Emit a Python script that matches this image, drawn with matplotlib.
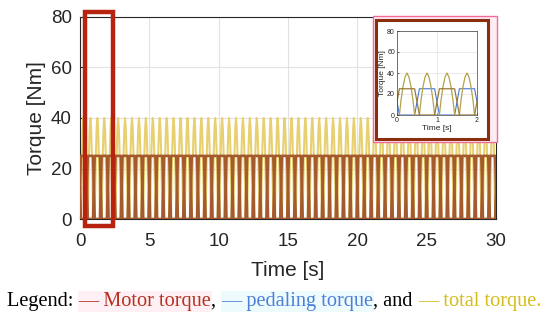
import numpy as np
import matplotlib
matplotlib.use("Agg")
import matplotlib.pyplot as plt
from matplotlib.patches import Rectangle

# ---------------- data ----------------
# one pedal stroke (0.5 s): total torque arch
stroke_t = [0.00, 0.06, 0.10, 0.15, 0.20, 0.25, 0.30, 0.35, 0.40, 0.44, 0.50]
total_stroke = [0, 0, 14, 27, 36, 40, 36, 27, 14, 0, 0]
# one crank revolution (1 s): motor and pedaling torque alternate between 25 and 0
rev_t = [0.00, 0.06, 0.44, 0.56, 0.94, 1.00]
motor_rev = [12.5, 25, 25, 0, 0, 12.5]
pedal_rev = [12.5, 0, 0, 25, 25, 12.5]
n_strokes = 60
n_revs = 30

x_ticks = [0, 5, 10, 15, 20, 25, 30]
y_ticks = [0, 20, 40, 60, 80]
inset_x_ticks = [0, 1, 2]

# ---------------- build series from the cycles ----------------
def tile(tc, vc, n, period):
    tc = np.asarray(tc, float)
    vc = np.asarray(vc, float)
    ts = np.concatenate([tc[:-1] + k * period for k in range(n)] + [[n * period]])
    vs = np.concatenate([vc[:-1] for _ in range(n)] + [[vc[-1]]])
    return ts, vs

t_tot, v_tot = tile(stroke_t, total_stroke, n_strokes, 0.5)
t_mot, v_mot = tile(rev_t, motor_rev, n_revs, 1.0)
t_ped, v_ped = tile(rev_t, pedal_rev, n_revs, 1.0)

c_pedal = "#4a78d0"
c_total = "#e8d070"
c_total_in = "#b3a24a"
c_motor_in = "#9a7a38"
c_main_dark = "#a45a2c"

plt.rcParams["font.family"] = ["Liberation Sans", "DejaVu Sans"]

fig = plt.figure(figsize=(5.5, 3.23), dpi=100)
fig.patch.set_facecolor("white")

W, H = 550.0, 323.0
def fx(px):
    return px / W
def fy(py):
    return 1 - py / H

# ---------------- main axes ----------------
ax = fig.add_axes([fx(80), fy(219), fx(496) - fx(80), fy(17) - fy(219)])
ax.plot(t_tot, v_tot, color=c_total, lw=1.5, zorder=3)
ax.plot(t_mot, v_mot, color=c_main_dark, lw=1.9, zorder=4)
ax.plot(t_ped, v_ped, color=c_main_dark, lw=1.9, zorder=4)
ax.set_xlim(0, 30)
ax.set_ylim(0, 80)
ax.set_xticks(x_ticks)
ax.set_yticks(y_ticks)
ax.grid(True, color="#e2e2e2", lw=0.8)
ax.set_axisbelow(True)
for s in ax.spines.values():
    s.set_color("#262626")
    s.set_linewidth(0.8)
ax.tick_params(labelsize=13.5, colors="#262626", length=3, direction="in")
ax.tick_params(axis="x", pad=10)
ax.tick_params(axis="y", pad=6)
ax.set_xlabel("Time [s]", fontsize=15, color="#262626", labelpad=8)
ax.set_ylabel("Torque [Nm]", fontsize=15, color="#262626", labelpad=3)

# ---------------- highlight rectangle on main plot ----------------
fig.patches.append(Rectangle((fx(85), fy(226)), fx(113) - fx(85), fy(12) - fy(226),
                             transform=fig.transFigure, fill=False,
                             edgecolor="#b8230f", lw=3.2, zorder=10))

# ---------------- inset frame ----------------
fig.patches.append(Rectangle((fx(373), fy(142)), fx(497) - fx(373), fy(16) - fy(142),
                             transform=fig.transFigure, facecolor="#fdecf3",
                             edgecolor="#f06a9a", lw=1.0, zorder=5))
fig.patches.append(Rectangle((fx(376), fy(139)), fx(488) - fx(376), fy(20) - fy(139),
                             transform=fig.transFigure, facecolor="white",
                             edgecolor="#8b2e0e", lw=2.2, zorder=6))

axi = fig.add_axes([fx(397), fy(115), fx(477) - fx(397), fy(31) - fy(115)], zorder=7)
axi.plot(t_ped, v_ped, color=c_pedal, lw=0.8)
axi.plot(t_tot, v_tot, color=c_total_in, lw=0.9)
axi.plot(t_mot, v_mot, color=c_motor_in, lw=0.9)
axi.set_xlim(0, 2)
axi.set_ylim(0, 80)
axi.set_xticks(inset_x_ticks)
axi.set_yticks(y_ticks)
axi.grid(True, color="#e2e2e2", lw=0.5)
for s in axi.spines.values():
    s.set_color("#404040")
    s.set_linewidth(0.5)
axi.tick_params(labelsize=5, colors="#262626", length=1.5, direction="in", pad=1.5, width=0.5)
axi.set_xlabel("Time [s]", fontsize=6, color="#262626", labelpad=1)
axi.set_ylabel("Torque [Nm]", fontsize=6, color="#262626", labelpad=1)

# ---------------- caption legend ----------------
parts = [
    ("Legend: ", "black", None),
    ("\u2014 Motor torque", "#b5321e", "#fff0f5"),
    (", ", "black", None),
    ("\u2014 pedaling torque", "#4d7fd8", "#eefbfd"),
    (", and ", "black", None),
    ("\u2014 total torque.", "#d4bd1c", None),
]
fig.canvas.draw()
renderer = fig.canvas.get_renderer()
x0 = 7.0
for txt, col, bg in parts:
    kw = {}
    if bg:
        kw["bbox"] = dict(facecolor=bg, edgecolor="none", pad=0.5)
    t = fig.text(fx(x0), fy(306), txt, color=col, fontsize=14.6,
                 family=["Liberation Serif", "DejaVu Serif"], ha="left", va="baseline", **kw)
    bb = t.get_window_extent(renderer=renderer)
    x0 += bb.width

fig.savefig("out.png", dpi=100)
